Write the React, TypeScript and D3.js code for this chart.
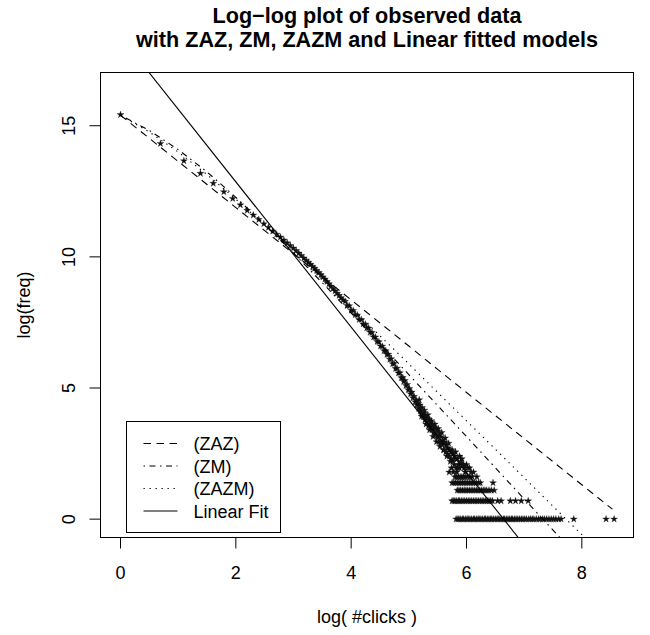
import React from 'react';
import * as d3 from 'd3';

// ---------- text ----------
const titleLines = ['Log\u2212log plot of observed data', 'with ZAZ, ZM, ZAZM and Linear fitted models'];
const xAxisLabel = 'log( #clicks )';
const yAxisLabel = 'log(freq)';
const xTicks = [0, 2, 4, 6, 8];
const yTicks = [0, 5, 10, 15];
const legendLabels = ['(ZAZ)', '(ZM)', '(ZAZM)', 'Linear Fit'];

// ---------- observed data: main curve (log clicks, log freq) ----------
const obsX = [
  0, 0.693, 1.099, 1.386, 1.609, 1.792, 1.946, 2.079, 2.197, 2.303, 2.398, 2.485, 2.565, 2.639, 2.708, 2.773, 2.833, 2.89, 2.944, 2.996,
  3.045, 3.091, 3.135, 3.178, 3.219, 3.258, 3.296, 3.332, 3.367, 3.401,
  3.44, 3.475, 3.51, 3.545, 3.58, 3.615, 3.65, 3.685, 3.72, 3.755, 3.79, 3.825, 3.86,
  3.895, 3.93, 3.965, 4.0, 4.035, 4.07, 4.105, 4.14, 4.175, 4.21, 4.245, 4.27,
  4.3, 4.33, 4.36, 4.39, 4.42, 4.45, 4.48, 4.51, 4.54, 4.57, 4.6, 4.62,
  4.645, 4.67, 4.695, 4.72, 4.745, 4.77, 4.795, 4.82, 4.845, 4.87, 4.895, 4.91,
  4.93, 4.95, 4.97, 4.99, 5.01, 5.03, 5.05, 5.07, 5.09, 5.11, 5.13, 5.14,
  5.16, 5.17, 5.19, 5.2, 5.22, 5.23, 5.25, 5.26, 5.28, 5.29, 5.31, 5.32, 5.34, 5.35, 5.37, 5.38, 5.4, 5.41,
  5.43, 5.44, 5.46, 5.47, 5.49, 5.5, 5.52, 5.53, 5.55, 5.56, 5.58, 5.59, 5.61, 5.62, 5.64, 5.65, 5.67, 5.68,
  5.7, 5.71, 5.73, 5.74, 5.76, 5.77, 5.79, 5.8, 5.82, 5.84, 5.86, 5.88, 5.9, 5.93, 5.96, 6.0, 6.05,
  5.18, 5.22, 5.27, 5.3, 5.33, 5.36, 5.39, 5.42, 5.45, 5.48, 5.51, 5.54, 5.57, 5.6, 5.63, 5.66, 5.69, 5.72,
  5.75, 5.78, 5.81, 5.85, 5.88, 5.92, 5.95, 5.98, 6.02, 6.08, 6.12, 5.7, 5.74, 5.77, 5.83,
];
const obsY = [
  15.42, 14.32, 13.66, 13.18, 12.8, 12.48, 12.22, 11.98, 11.77, 11.59, 11.42, 11.26, 11.12, 10.98, 10.86, 10.75, 10.64, 10.53, 10.43, 10.33,
  10.24, 10.14, 10.05, 9.95, 9.87, 9.79, 9.71, 9.63, 9.56, 9.48,
  9.4, 9.32, 9.23, 9.15, 9.06, 8.97, 8.88, 8.79, 8.7, 8.61, 8.53, 8.44, 8.35,
  8.3, 8.14, 8.13, 7.96, 7.95, 7.79, 7.78, 7.61, 7.61, 7.44, 7.43, 7.29,
  7.28, 7.12, 7.11, 6.94, 6.94, 6.77, 6.76, 6.6, 6.59, 6.42, 6.42, 6.28,
  6.28, 6.09, 6.11, 5.92, 5.93, 5.74, 5.75, 5.57, 5.58, 5.39, 5.4, 5.25,
  5.28, 5.09, 5.13, 4.93, 4.98, 4.78, 4.84, 4.62, 4.68, 4.47, 4.53, 4.36,
  4.4, 4.22, 4.35, 4.12, 4.05, 4.25, 3.9, 4.05, 3.78, 3.95, 3.7, 3.85, 3.55, 3.8, 3.5, 3.68, 3.4, 3.6,
  3.3, 3.5, 3.22, 3.45, 3.1, 3.35, 2.95, 3.22, 2.89, 3.14, 2.83, 3.0, 2.64, 2.94, 2.56, 2.83, 2.48, 2.71,
  2.4, 2.64, 2.3, 2.56, 2.2, 2.48, 2.08, 2.4, 1.95, 2.3, 2.08, 1.95, 2.2, 2.08, 1.95, 2.08, 1.95,
  4.55, 3.92, 4.15, 3.62, 3.98, 3.4, 3.75, 3.15, 3.62, 2.95, 3.45, 2.77, 3.3, 2.64, 3.09, 2.4, 2.89, 2.2,
  2.64, 2.3, 2.56, 1.95, 2.4, 2.3, 2.08, 1.79, 1.95, 1.79, 1.79, 1.79, 1.95, 1.79, 1.79,
];

// ---------- observed data: tail rows (log clicks) at small frequencies ----------
const freqRowLogFreq = [0, 0.693, 1.099, 1.386, 1.609];
const freq1X = [5.82, 5.85, 5.87, 5.9, 5.93, 5.95, 5.98, 6.01, 6.03, 6.06, 6.09, 6.12, 6.14, 6.17, 6.2, 6.22, 6.25, 6.28, 6.31, 6.33,
  6.36, 6.39, 6.42, 6.44, 6.47, 6.5, 6.53, 6.55, 6.58, 6.61, 6.64, 6.66, 6.69, 6.72, 6.75, 6.78, 6.8, 6.83, 6.86, 6.89, 6.92, 6.95,
  6.98, 7.01, 7.04, 7.08, 7.11, 7.14, 7.17, 7.21, 7.25, 7.28, 7.32, 7.35, 7.39, 7.43, 7.47, 7.51, 7.55, 7.6, 7.64, 7.86, 8.42, 8.56];
const freq2X = [5.75, 5.78, 5.8, 5.83, 5.86, 5.88, 5.91, 5.94, 5.97, 6.0, 6.03, 6.06, 6.09, 6.12, 6.15, 6.18, 6.21, 6.24, 6.27, 6.3,
  6.33, 6.36, 6.39, 6.42, 6.45, 6.54, 6.6, 6.76, 6.85, 6.95, 7.07];
const freq3X = [5.84, 5.87, 5.9, 5.93, 5.96, 5.99, 6.02, 6.05, 6.08, 6.11, 6.14, 6.17, 6.2, 6.23, 6.26, 6.29, 6.32, 6.35, 6.39, 6.43, 6.48];
const freq4X = [5.75, 5.78, 5.81, 5.84, 5.87, 5.9, 5.93, 5.96, 5.99, 6.02, 6.05, 6.08, 6.11, 6.14, 6.17, 6.21, 6.24, 6.46];
const freq5X = [5.8, 5.83, 5.86, 5.89, 5.92, 5.95, 5.98, 6.02, 6.06, 6.1, 6.18];

// ---------- fitted models ----------
const modelX = [0, 0.5, 1, 1.5, 2, 2.5, 3, 3.5, 4, 4.5, 5, 5.5, 6, 6.5, 7, 7.5, 8, 8.53];
const zazY = [15.4, 14.52, 13.64, 12.76, 11.88, 11.0, 10.12, 9.24, 8.36, 7.48, 6.6, 5.71, 4.83, 3.95, 3.07, 2.19, 1.31, 0.38];
const zmY = [15.4, 14.82, 14.09, 13.24, 12.27, 11.23, 10.14, 9.01, 7.86, 6.69, 5.51, 4.33, 3.15, 1.96, 0.77, -0.42, -1.61, -2.87];
const zazmY = [15.4, 14.76, 14.0, 13.14, 12.2, 11.21, 10.18, 9.13, 8.07, 6.99, 5.92, 4.83, 3.75, 2.67, 1.58, 0.49, -0.59, -1.74];
const linearFitX = [0, 8.56];
const linearFitY = [18.4, -5.31];

const FONT = "'Liberation Sans', Arial, Helvetica, sans-serif";

export default function App() {
  const W = 650, H = 635;
  const plot = { left: 100.5, right: 633.5, top: 72.5, bottom: 537.5 };
  const xs = d3.scaleLinear().domain([-0.347, 8.896]).range([plot.left, plot.right]);
  const ys = d3.scaleLinear().domain([-0.7, 17.03]).range([plot.bottom, plot.top]);
  const line = d3.line<[number, number]>().x(d => xs(d[0])).y(d => ys(d[1]));

  const zip = (a: number[], b: number[]) => a.map((v, i) => [v, b[i]] as [number, number]);

  const models = [
    { label: legendLabels[0], pts: zip(modelX, zazY), dash: '7.5,5.5' },
    { label: legendLabels[1], pts: zip(modelX, zmY), dash: '1.5,4.5,6,4.5' },
    { label: legendLabels[2], pts: zip(modelX, zazmY), dash: '1.3,4.7' },
    { label: legendLabels[3], pts: zip(linearFitX, linearFitY), dash: undefined as string | undefined },
  ];

  const rows = [freq1X, freq2X, freq3X, freq4X, freq5X];
  const points: [number, number][] = zip(obsX, obsY);
  rows.forEach((r, i) => r.forEach(x => points.push([x, freqRowLogFreq[i]])));

  const star = d3.symbol().type(d3.symbolStar).size(15)() as string;

  const cx = (plot.left + plot.right) / 2;
  const cy = (plot.top + plot.bottom) / 2;

  const leg = { left: 126.5, right: 280.5, top: 421.5, bottom: 532.5 };
  const legRowY = [443.5, 466, 488.5, 511];

  return (
    <svg width={W} height={H} style={{ position: 'absolute', left: 0, top: 0, background: '#fff' }} fontFamily={FONT}>
      <rect x={0} y={0} width={W} height={H} fill="#fff" />
      <defs>
        <clipPath id="plotClip">
          <rect x={plot.left} y={plot.top} width={plot.right - plot.left} height={plot.bottom - plot.top} />
        </clipPath>
      </defs>

      {/* title */}
      <text x={cx} y={22.7} textAnchor="middle" fontWeight="bold" fontSize={21.6}>{titleLines[0]}</text>
      <text x={cx} y={47} textAnchor="middle" fontWeight="bold" fontSize={21.6}>{titleLines[1]}</text>

      <g clipPath="url(#plotClip)">
        {points.map((p, i) => (
          <path key={i} d={star} transform={`translate(${xs(p[0])},${ys(p[1])})`} fill="#111" stroke="#111" strokeWidth={0.3} />
        ))}
        {models.map((m, i) => (
          <path key={i} d={line(m.pts) || ''} fill="none" stroke="#000" strokeWidth={1.1} strokeDasharray={m.dash} />
        ))}
      </g>

      {/* box */}
      <rect x={plot.left} y={plot.top} width={plot.right - plot.left} height={plot.bottom - plot.top} fill="none" stroke="#000" strokeWidth={1} />

      {/* x axis */}
      <line x1={xs(xTicks[0])} x2={xs(xTicks[xTicks.length - 1])} y1={plot.bottom} y2={plot.bottom} stroke="#000" />
      {xTicks.map(t => (
        <g key={t}>
          <line x1={xs(t)} x2={xs(t)} y1={plot.bottom} y2={plot.bottom + 11} stroke="#000" />
          <text x={xs(t)} y={579} textAnchor="middle" fontSize={18}>{t}</text>
        </g>
      ))}
      <text x={cx} y={623} textAnchor="middle" fontSize={18}>{xAxisLabel}</text>

      {/* y axis */}
      <line y1={ys(yTicks[0])} y2={ys(yTicks[yTicks.length - 1])} x1={plot.left} x2={plot.left} stroke="#000" />
      {yTicks.map(t => (
        <g key={t}>
          <line y1={ys(t)} y2={ys(t)} x1={plot.left - 11} x2={plot.left} stroke="#000" />
          <text transform={`translate(74.5,${ys(t)}) rotate(-90)`} textAnchor="middle" fontSize={18}>{t}</text>
        </g>
      ))}
      <text transform={`translate(30,${cy}) rotate(-90)`} textAnchor="middle" fontSize={18}>{yAxisLabel}</text>

      {/* legend */}
      <rect x={leg.left} y={leg.top} width={leg.right - leg.left} height={leg.bottom - leg.top} fill="#fff" stroke="#000" strokeWidth={1} />
      {models.map((m, i) => (
        <g key={i}>
          <line x1={143.5} x2={177.5} y1={legRowY[i]} y2={legRowY[i]} stroke="#000" strokeWidth={1.1} strokeDasharray={m.dash} />
          <text x={193.5} y={legRowY[i] + 6.5} fontSize={18}>{m.label}</text>
        </g>
      ))}
    </svg>
  );
}
